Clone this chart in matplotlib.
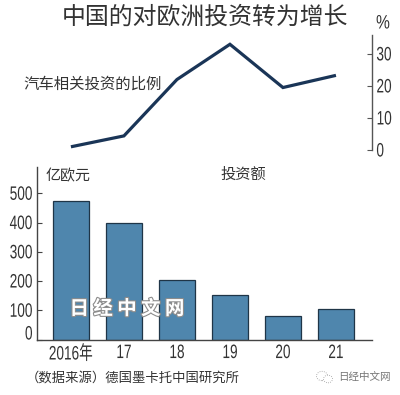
import matplotlib
matplotlib.use('Agg')
import matplotlib.pyplot as plt
from matplotlib.patches import Ellipse
from matplotlib.patheffects import AbstractPathEffect, withStroke
from matplotlib.transforms import Affine2D

plt.rcParams['font.family'] = ['Noto Sans CJK SC', 'DejaVu Sans']

W = 400.0
H = 395.0

years = ['2016年', '17', '18', '19', '20', '21']
share = [1.0, 4.4, 22.0, 33.0, 19.5, 23.3]
amount = [473, 400, 203, 151, 80, 105]
share_ticks = [0, 10, 20, 30]
amount_ticks = [0, 100, 200, 300, 400, 500]

NUM_FONT = ['Liberation Sans', 'Noto Sans CJK SC']
DARK = '#333333'
LINE = '#1a3557'
BAR = '#4f86ad'
EDGE = '#1f3547'


# the reference uses a condensed face for numbers, no such font here so squeeze the text
class Squeeze(AbstractPathEffect):
    def __init__(self, sx, anchor):
        super().__init__()
        self.sx = sx
        self.anchor = anchor

    def draw_path(self, renderer, gc, tpath, affine, rgbFace=None):
        ext = tpath.get_extents()
        a = {'left': ext.x0, 'center': (ext.x0 + ext.x1) / 2, 'right': ext.x1}[self.anchor]
        t = Affine2D().translate(-a, 0).scale(self.sx, 1).translate(a, 0) + affine
        renderer.draw_path(gc, tpath, t, rgbFace)


def px_axes(fig, left, top, right, bottom):
    return fig.add_axes([left / W, 1 - bottom / H, (right - left) / W, (bottom - top) / H])


def style_numbers(labels, anchor):
    for t in labels:
        t.set_family(NUM_FONT)
        t.set_fontsize(14)
        t.set_color(DARK)
        t.set_path_effects([Squeeze(0.7, anchor)])


fig = plt.figure(figsize=(W / 100, H / 100), dpi=100)
x = list(range(len(years)))

# top chart, line with axis on the right
ax1 = px_axes(fig, 37, 35, 372, 150)
ax1.plot(x, share, color=LINE, linewidth=2.3, solid_joinstyle='miter', solid_capstyle='butt')
ax1.set_xlim(-0.64, 5.68)
ax1.set_ylim(0, 35.9)
ax1.patch.set_alpha(0)
for s in ['top', 'left', 'bottom']:
    ax1.spines[s].set_visible(False)
ax1.spines['right'].set_color('#555555')
ax1.spines['right'].set_linewidth(1.0)
ax1.yaxis.tick_right()
ax1.set_xticks([])
ax1.set_yticks(share_ticks)
ax1.tick_params(axis='y', direction='in', length=3.5, width=0.8, color='#555555', pad=3)
style_numbers(ax1.get_yticklabels(), 'left')

# bottom chart, bars
ax2 = px_axes(fig, 37, 167, 372, 339.5)
ax2.bar(x, amount, width=0.675, color=BAR, edgecolor=EDGE, linewidth=0.9)
ax2.set_xlim(-0.64, 5.68)
ax2.set_ylim(0, 590)
for s in ['top', 'right']:
    ax2.spines[s].set_visible(False)
for s in ['left', 'bottom']:
    ax2.spines[s].set_color('#444444')
    ax2.spines[s].set_linewidth(1.0)
ax2.set_xticks(x)
ax2.set_xticklabels(years)
ax2.set_yticks(amount_ticks)
ax2.tick_params(axis='x', length=0, pad=4)
ax2.tick_params(axis='y', direction='in', length=3.5, width=0.8, color='#444444', pad=3)
style_numbers(ax2.get_xticklabels(), 'center')
style_numbers(ax2.get_yticklabels(), 'right')
ax2.get_yticklabels()[0].set_verticalalignment('baseline')


# texts placed in pixel positions
def label(px, py, s, size, color=DARK, ha='left', **kw):
    return fig.text(px / W, 1 - py / H, s, fontsize=size, color=color, ha=ha, va='center', **kw)


label(205, 17, '中国的对欧洲投资转为增长', 17.2, ha='center')
pct = label(383, 24, '%', 14, ha='center', family=NUM_FONT)
pct.set_path_effects([Squeeze(0.8, 'center')])
label(23, 84, '汽车相关投资的比例', 11.1)
label(46, 176, '亿欧元', 10.8)
label(243, 174, '投资额', 11, ha='center')
label(26, 378, '（数据来源）德国墨卡托中国研究所', 9.6)
label(338, 377, '日经中文网', 7.6, color='#777777')
wm = label(127, 309, '日 经 中 文 网', 14, color='white', ha='center', fontweight='bold')
wm.set_path_effects([withStroke(linewidth=1.6, foreground='#8c8c8c')])

# small wechat mark next to the credit line
for cx, cy, r in [(322, 376, 5.5), (328, 379, 4.5)]:
    fig.add_artist(Ellipse((cx / W, 1 - cy / H), 2 * r / W, 1.7 * r / H, transform=fig.transFigure,
                           facecolor='white', edgecolor='#999999', linewidth=0.6, linestyle=':'))

fig.savefig('out.png', dpi=100)
